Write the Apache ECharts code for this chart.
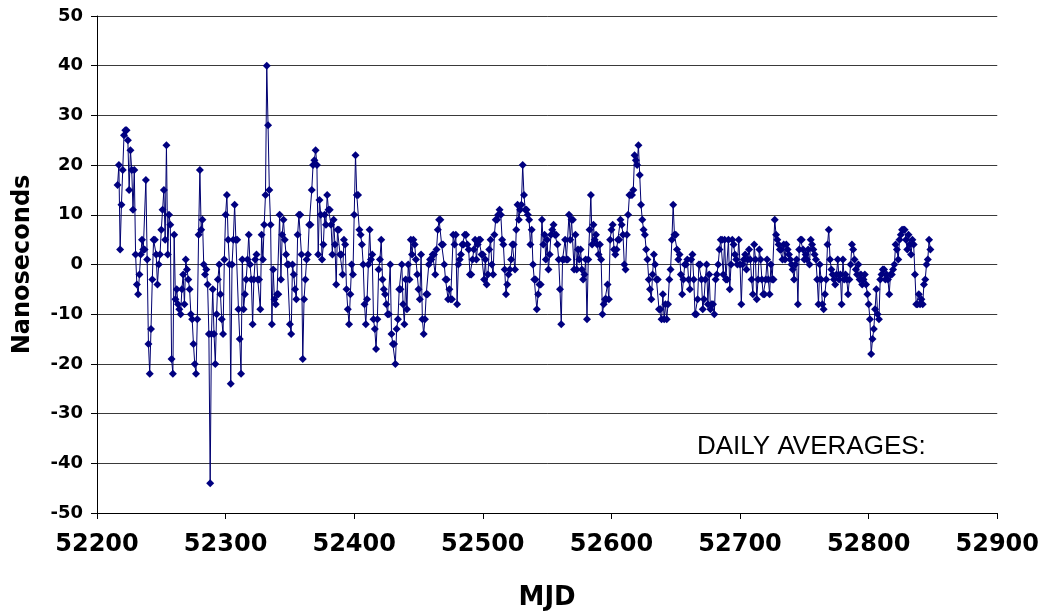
<!DOCTYPE html>
<html>
<head>
<meta charset="utf-8">
<title>Daily averages</title>
<script src="https://cdn.jsdelivr.net/npm/echarts/dist/echarts.min.js"></script>
<style>
  html, body { margin: 0; padding: 0; background: #fff; }
  #chart { width: 1042px; height: 616px; }
</style>
</head>
<body>
<div id="chart"></div>
<script>
// daily averages in nanoseconds, one value per MJD starting at the day in the name
const ns52216 = [16,20,3,12,19,26,27,27,25,15, 23,19,11,19,2,-4,-6,-2,2,5, 3,3,17,1,-16,-22,-13,-3,5,5,
  2,-4,0,2,7,11,15,5,24,2, 10,8,-19,-22,6,-7,-5,-8,-9,-10, -5,-2,-8,1,-1,-3,-5,-10,-11,-16,
  -20,-22,-11,6,19,7,9,0,-2,-1, -4,-14,-44,-14,-5,-14,-20,-10,-3,0, -6,-11,-14,1]
const ns52300 = [10,14,5,0,-24,0,5,12,5,5, -9,-15,-22,1,-9,-6,-3,1,6,0, -3,-12,-3,1,2,-3,-3,-9,6,1,
  8,14,40,28,15,8,-12,-1,-7,-8, -6,-6,10,-3,6,9,5,2,0,0, -12,-14,0,-2,-5,-7,6,10,10,2,
  -19,-7,-3,1,2,8,8,15,20,21, 23,20,2,13,10,1,4,10,8,14, 11,11,8,2,9,4,-4,7,7,2, 2,-2,5,4,-5,-9,-12,-6,0,-2]
const ns52400 = [10,22,14,14,7,6,4,0,-8,-12, -7,0,7,1,2,-11,-13,-17,-11,-1, 1,5,-3,-5,-6,-8,-10,-10,0,-14,
  -16,-16,-20,-13,-11,-5,-5,0,-8,-12, -3,-9,0,-3,5,2,5,4,1,-2, -5,-7,2,-11,-14,-11,-6,-6,0,1,
  1,2,2,-2,3,7,9,9,4,4, 0,-3,-3,-7,-5,-7,-7,6,4,6, -8,0,1,2,4,4,6,6,4,3, -2,-2,1,3,5,1,4,5,5,2]
const ns52500 = [2,-3,1,-4,-2,3,5,0,-2,6, 9,9,10,11,10,5,4,-1,-6,-4, -2,-1,1,4,4,-1,7,12,9,11,
  12,20,14,11,11,10,9,4,7,0, -3,-3,-9,-6,-4,-4,9,4,6,1, 5,-1,2,6,7,8,6,6,4,1,
  -5,-12,1,1,5,1,1,10,5,9, 9,-1,6,-1,3,1,3,-1,-3,-2, 1,-11,1,7,14,4,8,5,6,4, 2,4,1,-10,-8,-7,-7,-4,-7,5]
const ns52600 = [7,8,3,2,3,5,5,9,8,6, 0,-1,6,10,14,14,14,15,22,21, 20,24,18,12,9,7,6,3,1,-3,
  -5,-7,-2,2,0,-3,-3,-9,-9,-11, -6,-11,-8,-11,-8,-3,-1,5,12,6, 6,3,1,2,-2,-6,-3,0,0,1,
  -3,-5,1,2,-3,-10,-10,-7,0,0, -3,-9,-7,-3,0,-8,-2,-9,-8,-8, -10,-3,-2,0,3,5,5,-2,5,-3, -3,5,-5,0,5,4,2,1,0,5]
const ns52700 = [0,-8,0,1,2,-1,1,3,1,-3, -6,4,1,-7,-3,3,1,-3,-6,-6, -3,1,-3,-6,0,-3,-3,9,6,5,
  4,3,3,1,4,1,4,3,2,1, 0,-1,-3,0,1,-8,3,5,5,3, 1,2,1,3,0,5,4,3,2,1,
  -3,-8,0,-3,-8,-9,-6,-3,4,7, 1,-1,-2,-3,-4,-2,1,-3,-2,-8, 1,-3,-2,-3,-6,-3,0,4,3,1, -1,-2,0,-3,-2,-4,-3,-2,-4,-6]
const ns52800 = [-8,-11,-18,-15,-13,-9,-5,-10,-11,-3, -2,-1,-1,-3,-2,-3,-6,-2,-2,-1, 0,4,3,1,5,6,7,7,7,5,
  3,6,4,2,5,4,-2,-8,-8,-6, -8,-7,-8,-4,-3,0,1,5,3]

const blocks = [[52216, ns52216], [52300, ns52300], [52400, ns52400], [52500, ns52500],
  [52600, ns52600], [52700, ns52700], [52800, ns52800]]

const seriesData = []
blocks.forEach(([start, vals]) => {
  vals.forEach((v, i) => seriesData.push([start + i, v]))
})

const chart = echarts.init(document.getElementById('chart'), null, { renderer: 'canvas' })

const labelFont = {
  color: '#000',
  fontFamily: 'DejaVu Sans',
  fontWeight: 'bold'
}

chart.setOption({
  animation: false,
  backgroundColor: '#fff',
  grid: {
    left: 97,
    right: 37,
    top: 16,
    bottom: 96,
    containLabel: false
  },
  xAxis: {
    type: 'value',
    min: 52200,
    max: 52900,
    interval: 100,
    name: 'MJD',
    nameLocation: 'middle',
    nameGap: 72,
    nameTextStyle: { ...labelFont, fontSize: 26 },
    axisLine: { show: true, onZero: false, lineStyle: { color: '#000', width: 1 } },
    axisTick: { show: true, length: 6, lineStyle: { color: '#000' } },
    axisLabel: { ...labelFont, fontSize: 24, margin: 20, formatter: v => String(v) },
    splitLine: { show: false }
  },
  yAxis: {
    type: 'value',
    min: -50,
    max: 50,
    interval: 10,
    name: 'Nanoseconds',
    nameLocation: 'middle',
    nameRotate: 90,
    nameGap: 62,
    nameTextStyle: { ...labelFont, fontSize: 24 },
    axisLine: { show: true, onZero: false, lineStyle: { color: '#000', width: 1 } },
    axisTick: { show: true, length: 6, lineStyle: { color: '#000' } },
    axisLabel: { ...labelFont, fontSize: 18, margin: 14 },
    splitLine: { show: true, lineStyle: { color: '#3a3a3a', width: 1 } }
  },
  graphic: [
    {
      type: 'text',
      left: 697,
      top: 434,
      style: {
        text: 'DAILY AVERAGES:',
        fill: '#000',
        font: '26px "Liberation Sans"'
      }
    }
  ],
  series: [
    {
      type: 'line',
      data: seriesData,
      symbol: 'diamond',
      symbolSize: 8,
      showAllSymbol: true,
      lineStyle: { color: '#000070', width: 1 },
      itemStyle: { color: '#000080' }
    }
  ]
})
</script>
</body>
</html>
